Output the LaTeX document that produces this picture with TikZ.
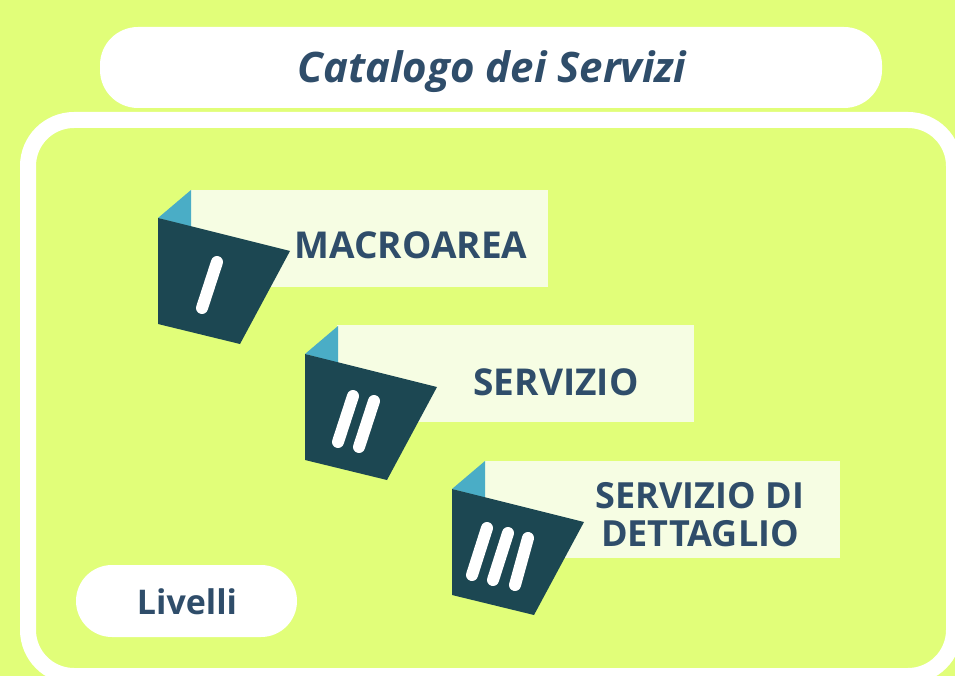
\documentclass[tikz,border=0pt]{standalone}
\usepackage{fontspec}
\setmainfont{Open Sans}
\definecolor{lime}{HTML}{E1FE79}
\definecolor{darkteal}{HTML}{1C4752}
\definecolor{lightteal}{HTML}{4AADC6}
\definecolor{barfill}{HTML}{F6FDE3}
\definecolor{inkblue}{HTML}{2F4D6A}
\begin{document}
\begin{tikzpicture}[x=1pt, y=-1pt,
  pill/.style = {fill=white, rounded corners=38pt},
  bar/.style = {fill=barfill},
  label/.style = {text=inkblue, font=\bfseries\fontsize{37}{38}\selectfont, align=center},
  numeral/.style = {white, line width=12pt, line cap=round}]
  \useasboundingbox (0,0) rectangle (955,676);
  \fill[lime] (0,0) rectangle (955,676);

  % panel and title
  \draw[white, line width=16pt, rounded corners=46pt] (28,120) rectangle (954,676);
  \fill[pill] (100,27) rectangle (882,108);
  \node[text=inkblue, font=\bfseries\itshape\fontsize{42}{44}\selectfont] (title) at (492,72) {Catalogo dei Servizi};

  % level bars
  \fill[bar] (190,190) rectangle (548,287);
  \fill[bar] (337,325) rectangle (694,422);
  \fill[bar] (484,461) rectangle (840,558);
  \node[label] (macro) at (411,245) {MACROAREA};
  \node[label] (serv) at (556,382) {SERVIZIO};
  \node[label, font=\bfseries\fontsize{36}{38}\selectfont] (dett) at (700,515) {SERVIZIO DI\\DETTAGLIO};

  % tabs
  \foreach \dx/\dy in {158/218, 305/354, 452/489} {
    \begin{scope}[shift={(\dx,\dy)}]
      \fill[lightteal] (0,0) -- (33,-28) -- (33,9) -- cycle;
      \fill[darkteal] (0,0) -- (132,33) -- (82,126) -- (0,106) -- cycle;
    \end{scope}
  }
  \draw[numeral] (217,262) -- (202,308);
  \draw[numeral] (353,396) -- (338,442);
  \draw[numeral] (374,401) -- (359,447);
  \draw[numeral] (487,528) -- (472,575);
  \draw[numeral] (508,533) -- (493,580);
  \draw[numeral] (528,538) -- (515,585);

  % levels tag
  \fill[pill, rounded corners=36pt] (76,565) rectangle (297,637);
  \node[text=inkblue, font=\bfseries\fontsize{34}{38}\selectfont] (livelli) at (187,602) {Livelli};
\end{tikzpicture}
\end{document}
